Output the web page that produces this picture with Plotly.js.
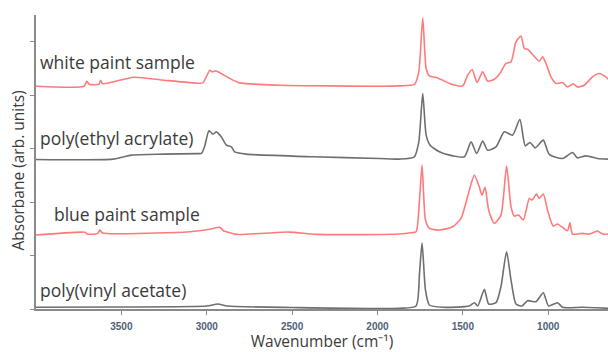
<!DOCTYPE html>
<html>
<head>
<meta charset="utf-8">
<script src="https://cdn.plot.ly/plotly-3.0.1.min.js"></script>
<style>html,body{margin:0;padding:0;background:#fff}#chart{width:608px;height:352px}</style>
</head>
<body>
<div id="chart"></div>
<script>
// Sample names (labels)
const sampleNames = ["white paint sample", "poly(ethyl acrylate)", "blue paint sample", "poly(vinyl acetate)"];

// white paint sample (stacked, arb. units)
const whiteWn = [4000,3719,3702,3690,3630,3622,3610,3427,3250,3047,3022,2982,2967,2947,2865,2807,2573,1988,1871,1784,1758,1735,1715,1696,1647,1618,1579,1501,1472,1446,1417,1384,1355,1316,1287,1247,1218,1189,1160,1140,1121,1092,1053,1033,1013,984,955,916,887,854,829,789,741,702,663,650];
const whiteAbs = [4.168,4.168,4.262,4.206,4.206,4.280,4.215,4.336,4.280,4.224,4.230,4.467,4.436,4.454,4.312,4.230,4.187,4.168,4.174,4.200,4.436,5.445,4.499,4.361,4.323,4.280,4.219,4.174,4.374,4.480,4.237,4.436,4.262,4.299,4.387,4.593,4.622,4.996,5.108,4.873,4.860,4.761,4.636,4.716,4.593,4.342,4.219,4.237,4.155,4.211,4.155,4.187,4.342,4.406,4.342,4.299];

// poly(ethyl acrylate)
const peaWn = [4000,3550,3440,3250,3050,3031,3012,2987,2963,2944,2915,2885,2856,2836,2768,2378,1988,1871,1784,1758,1735,1715,1692,1637,1559,1491,1452,1419,1384,1355,1306,1257,1209,1166,1135,1107,1076,1029,994,916,858,829,780,712,650];
const peaAbs = [2.798,2.804,2.879,2.897,2.907,2.910,3.047,3.333,3.271,3.314,3.221,3.065,3.034,2.940,2.897,2.847,2.816,2.804,2.847,3.127,4.032,3.252,3.065,2.940,2.865,2.847,3.127,2.910,3.140,2.972,3.034,3.314,3.252,3.551,3.052,3.116,3.015,3.159,2.892,2.817,2.929,2.828,2.865,2.817,2.804];

// blue paint sample
const blueWn = [4000,3712,3700,3640,3626,3610,3300,3099,2990,2924,2900,2885,2826,2515,2358,1871,1803,1774,1754,1739,1719,1696,1637,1559,1511,1462,1433,1404,1388,1370,1349,1316,1277,1244,1218,1199,1174,1146,1111,1096,1068,1053,1029,1004,971,946,916,887,873,858,800,760,712,682,650];
const blueAbs = [1.383,1.434,1.402,1.411,1.477,1.421,1.421,1.445,1.486,1.527,1.458,1.445,1.396,1.439,1.396,1.402,1.426,1.445,2.037,2.692,1.664,1.508,1.477,1.538,1.695,2.224,2.505,2.286,2.131,2.275,1.850,1.602,1.757,2.673,1.912,1.738,1.757,1.664,2.069,2.037,2.150,2.069,2.150,1.850,1.551,1.589,1.527,1.464,1.613,1.402,1.415,1.402,1.458,1.402,1.402];

// poly(vinyl acetate)
const pvaWn = [4000,3500,3000,2935,2880,2500,1871,1774,1754,1739,1719,1696,1618,1462,1433,1413,1374,1349,1306,1277,1244,1218,1189,1154,1121,1072,1029,998,946,916,800,650];
const pvaAbs = [0.032,0.037,0.056,0.093,0.056,0.028,0.013,0.056,0.667,1.239,0.355,0.075,0.032,0.056,0.118,0.056,0.368,0.093,0.118,0.417,1.071,0.542,0.093,0.056,0.155,0.136,0.305,0.056,0.118,0.032,0.032,0.013];

// x tick labels
const xTicks = [3500, 3000, 2500, 2000, 1500, 1000];
const yTicks = [0, 1, 2, 3, 4, 5];

const red = '#ff7b7b', grey = '#6f6f6f';
const mk = (x, y, c) => ({x: x, y: y, type: 'scatter', mode: 'lines',
  line: {color: c, width: 1.6, shape: 'spline', smoothing: 0.6}, hoverinfo: 'skip'});

const data = [
  mk(whiteWn, whiteAbs, red),
  mk(peaWn, peaAbs, grey),
  mk(blueWn, blueAbs, red),
  mk(pvaWn, pvaAbs, grey)
];

const labelY = [4.63, 3.2, 1.77, 0.35];
const labelX = [0.003, 0.003, 0.028, 0.003];
const txtFont = {family: 'Open Sans', size: 17.5, color: '#3b3b3b'};

const annotations = sampleNames.map((t, i) => ({
  text: t, xref: 'paper', yref: 'y', x: labelX[i], y: labelY[i],
  xanchor: 'left', yanchor: 'middle', showarrow: false, font: txtFont
}));
// y-axis title
annotations.push({
  text: 'Absorbane (arb. units)', xref: 'paper', yref: 'paper', x: -0.032, y: 0.47,
  xanchor: 'center', yanchor: 'middle', textangle: -90, showarrow: false,
  font: {family: 'Open Sans', size: 15.5, color: '#3b3b3b'}
});

const layout = {
  width: 608, height: 352,
  margin: {l: 36, r: 0, t: 15, b: 43},
  paper_bgcolor: '#fff', plot_bgcolor: '#fff',
  showlegend: false,
  xaxis: {
    range: [4000, 650], showgrid: false, zeroline: false,
    showline: true, linecolor: '#8a8a8a', linewidth: 1.5,
    ticks: 'outside', ticklen: 4, tickcolor: '#8a8a8a', tickwidth: 1,
    tickvals: xTicks, ticktext: xTicks.map(String),
    tickfont: {family: 'Liberation Sans', size: 10, color: '#4f5f78', weight: 'bold'},
    ticklabelstandoff: 3,
    title: {text: 'Wavenumber (cm\u207B\u00B9)', font: {family: 'Open Sans', size: 15.5, color: '#3b3b3b'}, standoff: 8}
  },
  yaxis: {
    range: [0, 5.5], showgrid: false, zeroline: false,
    showline: true, linecolor: '#8a8a8a', linewidth: 2,
    ticks: 'outside', ticklen: 4, tickcolor: '#8a8a8a', tickwidth: 1,
    tickvals: yTicks, showticklabels: false
  },
  annotations: annotations
};

Plotly.newPlot('chart', data, layout, {staticPlot: true, displayModeBar: false});
</script>
</body>
</html>
